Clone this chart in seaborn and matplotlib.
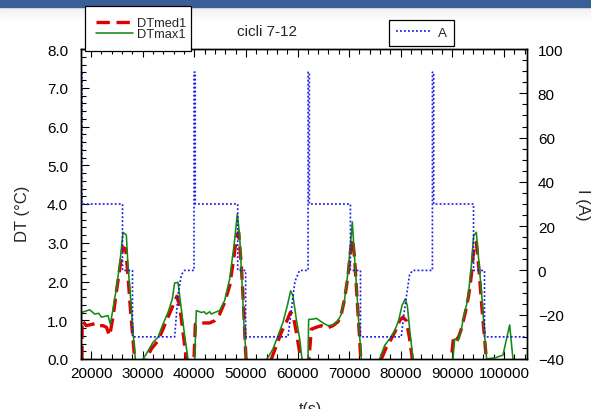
import numpy as np
import pandas as pd
import seaborn as sns
import matplotlib.pyplot as plt
from matplotlib.patches import Rectangle
from matplotlib.ticker import MultipleLocator, FormatStrFormatter

# DTmed1 (red dashed); values below 0 run off the axis
t_med = [18250, 18280, 19090, 20380, 21030, 21670, 22320, 22970, 23610, 24260, 24900,
         25550, 26190, 26710, 27160, 27680, 28130, 28450, 28800,
         30300, 30710, 31680, 32970, 33940, 34910, 35880, 36650, 37170, 37820, 38460, 38800,
         39700, 39950, 40210, 41050, 42980, 43950, 44920, 45890, 46860, 47630, 48210, 48600,
         49120, 49570, 50020, 50400,
         54500, 54930, 55900, 56870, 57830, 58610, 59120, 59770, 60420, 60740, 61000,
         62000, 62220, 62680, 63650, 64610, 65580, 66870, 67840, 68490, 69130, 69780, 70300,
         70690, 71070, 71590, 72040, 72240, 72500,
         75900, 76240, 77200, 78170, 79140, 79790, 80430, 81080, 81720, 82240, 82600,
         89500, 89800, 90250, 91090, 91730, 92510, 93150, 93670, 94190, 94640, 95150,
         95740, 96250, 96580, 96900]
dt_med = [0.0, 0.99, 0.86, 0.90, 0.93, 0.86, 0.86, 0.82, 0.60, 1.08, 1.72,
          2.32, 2.88, 2.84, 2.15, 1.20, 0.52, 0.0, -0.6,
          -0.6, 0.0, 0.26, 0.47, 0.77, 1.08, 1.38, 1.62, 1.38, 0.69, 0.0, -0.6,
          -0.6, 0.0, 0.90, 0.93, 0.93, 0.99, 1.16, 1.46, 1.89, 2.58, 3.18, 3.27,
          2.41, 1.29, 0.0, -0.6,
          -0.6, 0.0, 0.34, 0.69, 0.95, 1.20, 1.16, 0.69, 0.17, 0.0, -0.6,
          -0.6, 0.0, 0.77, 0.82, 0.86, 0.79, 0.86, 0.96, 1.16, 1.55, 2.15, 2.84,
          3.10, 2.58, 1.46, 0.52, 0.0, -0.6,
          -0.6, 0.0, 0.30, 0.52, 0.77, 0.99, 1.08, 0.99, 0.52, 0.0, -0.6,
          -0.6, 0.0, 0.60, 0.52, 0.77, 1.20, 1.63, 2.15, 2.93, 3.01, 2.32,
          1.29, 0.52, 0.0, -0.6]

# DTmax1 (green solid)
t_max = [18120, 18150, 19740, 20700, 21480, 22000, 22640, 23290, 23740, 24260, 25100,
         25740, 26190, 26840, 27160, 27680, 28130, 28580, 28900,
         29800, 30070, 30710, 32000, 32970, 33940, 34910, 35750, 36200, 36850, 37490,
         38140, 38790, 39100,
         39900, 40080, 40400, 41370, 41890, 42340, 42980, 43300, 43950, 44920, 45890,
         46860, 47700, 48340, 48790, 49250, 49630, 50090, 50400,
         53800, 54100, 55250, 56220, 57190, 58030, 58670, 59120, 59770, 60420, 60870, 61200,
         61900, 62030, 62160, 63000, 63650, 64290, 64940, 65900, 66870, 67840, 68490,
         69130, 69780, 70300, 70620, 70940, 71460, 71850, 72360, 72700,
         75600, 75910, 76880, 77850, 78820, 79590, 80240, 80880, 81270, 81790, 82370, 82700,
         89800, 90120, 90440, 91090, 91600, 92380, 93020, 93670, 94120, 94640, 95150,
         95740, 96250, 96640, 97540, 98510, 99800, 101100, 101740, 102100]
dt_max = [0.0, 1.20, 1.27, 1.16, 1.18, 1.08, 1.10, 1.12, 0.90, 1.29, 1.98,
          2.67, 3.27, 3.20, 2.41, 1.55, 0.69, 0.0, -0.6,
          -0.6, 0.0, 0.13, 0.43, 0.56, 0.90, 1.20, 1.55, 1.96, 1.98, 1.29,
          0.60, 0.0, -0.6,
          -0.6, 0.0, 1.25, 1.20, 1.22, 1.16, 1.22, 1.16, 1.20, 1.25, 1.51,
          2.07, 2.93, 3.74, 3.18, 1.98, 0.86, 0.0, -0.6,
          -0.6, 0.0, 0.26, 0.60, 0.95, 1.38, 1.76, 1.63, 1.03, 0.52, 0.0, -0.6,
          -0.6, 0.0, 1.02, 1.03, 1.05, 0.99, 0.93, 0.86, 0.88, 0.99, 1.16,
          1.55, 2.24, 3.01, 3.54, 2.84, 1.81, 0.95, 0.0, -0.6,
          -0.6, 0.0, 0.35, 0.52, 0.73, 0.99, 1.38, 1.55, 1.38, 0.69, 0.0, -0.6,
          -0.6, 0.0, 0.52, 0.47, 0.69, 1.20, 1.55, 2.41, 3.18, 3.27, 2.49,
          1.55, 0.60, 0.0, 0.02, 0.04, 0.10, 0.88, 0.0, -0.6]

# A (blue dotted, right axis)
t_a = [18000, 18050, 18050, 18250, 18250, 26100, 26100, 28030, 28030, 36200, 36850,
       37500, 38100, 39950, 39950, 40200, 40200, 48420, 48420, 49950, 49950, 58150,
       58800, 59500, 60400, 62050, 62050, 62300, 62300, 70250, 70250, 72200, 72200,
       80100, 80600, 81080, 81700, 82300, 86130, 86130, 86380, 86380, 94100, 94100,
       96220, 96220, 104400]
i_a = [0, 0, 89.5, 89.5, 30, 30, 0, 0, -30, -30, -11,
       -2, 0, 0, 89.5, 89.5, 30, 30, 0, 0, -30, -30,
       -18, -5, 0, 0, 89.5, 89.5, 30, 30, 0, 0, -30,
       -30, -20, -12, -2, 0, 0, 89.5, 89.5, 30, 30, 0,
       0, -30, -30]

sns.set_theme(style="white")
plt.rcParams['font.family'] = ['Liberation Sans', 'DejaVu Sans']

fig = plt.figure(figsize=(5.91, 4.10), dpi=100)

# slide header bar at the top of the screenshot
shade = fig.add_axes([0, 1 - 22 / 410, 1, 14 / 410])
shade.imshow(np.linspace(1, 0, 50).reshape(-1, 1), aspect="auto", cmap="Greys",
             vmin=0, vmax=7, extent=[0, 1, 0, 1])
shade.axis("off")
fig.patches.append(Rectangle((0, 1 - 8 / 410), 1, 8 / 410, transform=fig.transFigure,
                             color="#3a5e97", zorder=5))

ax = fig.add_axes([80.7 / 591, 1 - 360 / 410, 446 / 591, 310 / 410])
ax2 = ax.twinx()

df_med = pd.DataFrame({"t": t_med, "DT": dt_med})
df_max = pd.DataFrame({"t": t_max, "DT": dt_max})
df_a = pd.DataFrame({"t": t_a, "A": i_a})

sns.lineplot(data=df_med, x="t", y="DT", ax=ax, sort=False, estimator=None,
             color="#e00000", linewidth=2.4, linestyle=(0, (4.0, 2.0)), legend=False)
sns.lineplot(data=df_max, x="t", y="DT", ax=ax, sort=False, estimator=None,
             color="#138a13", linewidth=1.15, legend=False)
sns.lineplot(data=df_a, x="t", y="A", ax=ax2, sort=False, estimator=None,
             color="#1a1ae6", linewidth=1.2, linestyle=(0, (1.1, 1.3)), legend=False)

ax.set_xlim(18000, 104400)
ax.set_ylim(0, 8)
ax2.set_ylim(-40, 100)

ax.xaxis.set_major_locator(MultipleLocator(10000))
ax.xaxis.set_minor_locator(MultipleLocator(2000))
ax.yaxis.set_major_locator(MultipleLocator(1))
ax.yaxis.set_minor_locator(MultipleLocator(0.2))
ax.yaxis.set_major_formatter(FormatStrFormatter("%.1f"))
ax2.yaxis.set_major_locator(MultipleLocator(20))
ax2.yaxis.set_minor_locator(MultipleLocator(5))

ax.tick_params(axis="x", which="both", direction="in", top=True, bottom=True,
               labelsize=11, pad=5, color="black", labelcolor="black")
ax.tick_params(axis="y", which="both", direction="in", left=True, right=False,
               labelsize=11, pad=9, color="black", labelcolor="black")
ax2.tick_params(axis="y", which="both", direction="in", right=True,
                labelsize=11, pad=8, color="black", labelcolor="black")
for a in (ax, ax2):
    a.tick_params(which="major", length=5.8, width=0.8)
    a.tick_params(which="minor", length=3.5, width=0.8)
    for s in a.spines.values():
        s.set_color("black")
        s.set_linewidth(1.0)

ax.set_xlabel("t(s)", fontsize=11.5)
ax.xaxis.set_label_coords(0.514, -0.137)
ax.set_ylabel("DT (°C)", fontsize=12, va="center", ha="center")
ax.yaxis.set_label_coords(-0.131, 0.47)
ax2.set_ylabel("I (A)", fontsize=12, rotation=270, va="center", ha="center")
ax2.yaxis.set_label_coords(1.124, 0.5)
ax.set_title("cicli 7-12", fontsize=11, x=0.417, y=1.058, va="center", pad=0)

h_med, h_max = ax.get_lines()[:2]
h_a = ax2.get_lines()[0]
leg1 = fig.legend([h_med, h_max], ["DTmed1", "DTmax1"], loc="upper left",
                  bbox_to_anchor=(85 / 591, 1 - 49 / 410, 106 / 591, 42 / 410),
                  mode="expand", borderaxespad=0, fontsize=9.3, frameon=True,
                  fancybox=False, edgecolor="black", framealpha=1,
                  borderpad=0.85, labelspacing=-0.05, handlelength=2.9,
                  handletextpad=0.3, handleheight=0.5)
leg1.get_frame().set_linewidth(0.9)
leg2 = fig.legend([h_a], ["A"], loc="upper left",
                  bbox_to_anchor=(389 / 591, 1 - 49 / 410, 65 / 591, 28 / 410),
                  mode="expand", borderaxespad=0, fontsize=9.6, frameon=True,
                  fancybox=False, edgecolor="black", framealpha=1,
                  borderpad=0.5, handlelength=2.6, handletextpad=0.6)
leg2.get_frame().set_linewidth(0.9)

fig.savefig("out.png", dpi=100)
